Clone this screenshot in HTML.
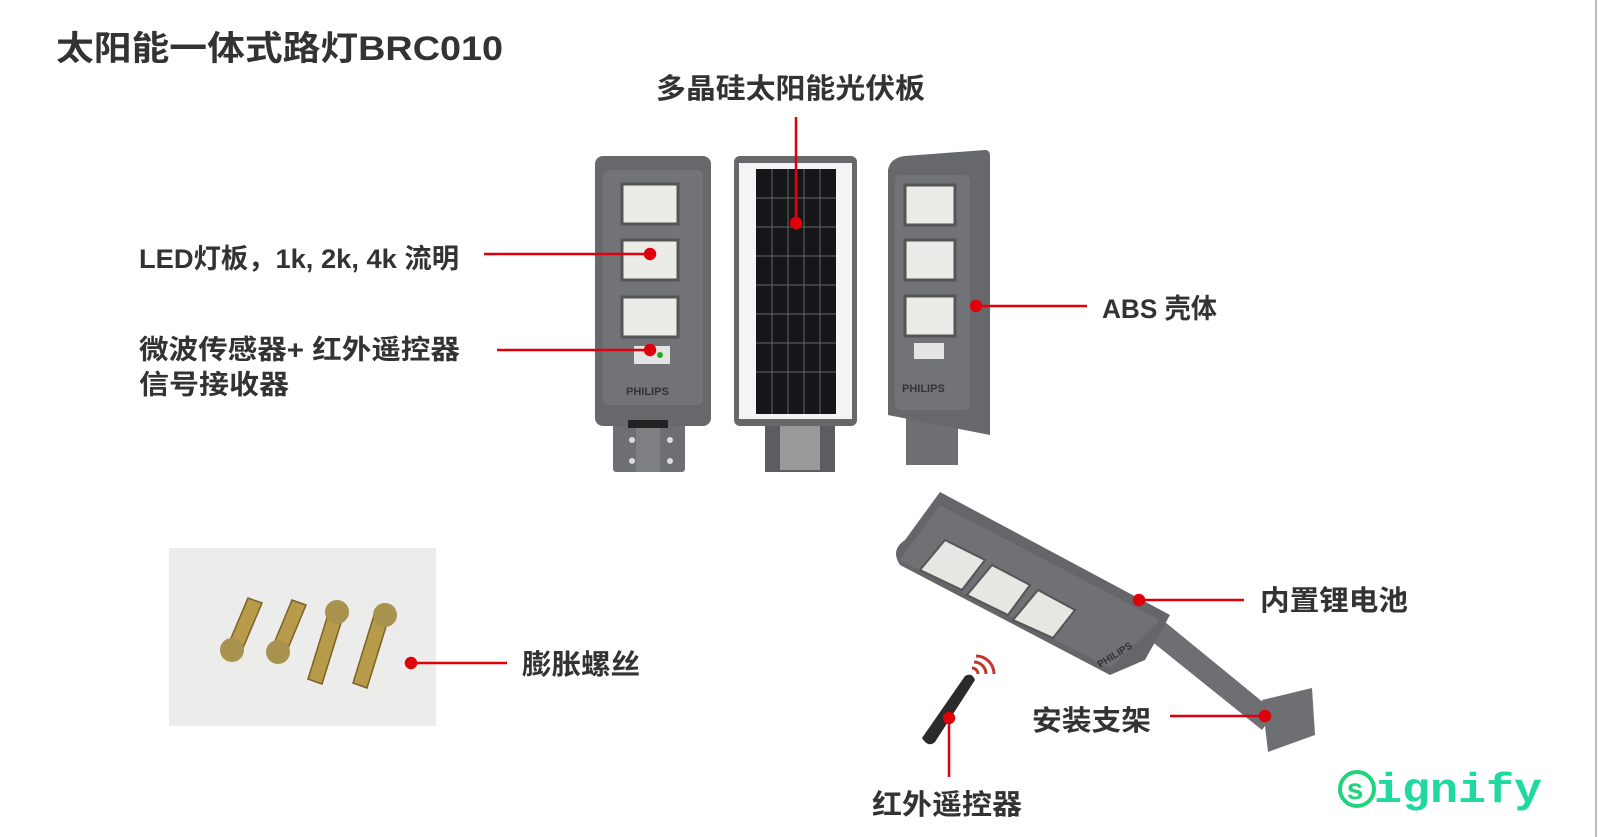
<!DOCTYPE html>
<html><head><meta charset="utf-8"><style>
html,body{margin:0;padding:0;background:#fff;}
svg{display:block;}
text{font-family:"Liberation Sans","Noto Sans CJK SC",sans-serif;font-weight:bold;fill:#333;}
</style></head><body>
<svg width="1599" height="837" viewBox="0 0 1599 837" xmlns="http://www.w3.org/2000/svg">
<rect width="1599" height="837" fill="#fff"/>
<line x1="1596" y1="0" x2="1596" y2="837" stroke="#bbb" stroke-width="2"/>
<text x="56" y="60" font-size="34" fill="#333" textLength="447" lengthAdjust="spacingAndGlyphs">太阳能一体式路灯BRC010</text>

<!-- lamp 1 -->
<rect x="613" y="405" width="72" height="67" fill="#6d6f72" rx="3"/>
<rect x="636" y="420" width="24" height="52" fill="#7e8083"/>
<circle cx="632" cy="440" r="3" fill="#ddd"/><circle cx="670" cy="440" r="3" fill="#ddd"/>
<circle cx="632" cy="461" r="3" fill="#ddd"/><circle cx="670" cy="461" r="3" fill="#ddd"/>
<rect x="595" y="156" width="116" height="270" rx="8" fill="#66686b"/>
<rect x="603" y="170" width="100" height="235" rx="6" fill="#717376"/>
<rect x="622" y="184" width="56" height="40" fill="#ebebe8" stroke="#555" stroke-width="3"/>
<rect x="622" y="240" width="56" height="40" fill="#ebebe8" stroke="#555" stroke-width="3"/>
<rect x="622" y="297" width="56" height="40" fill="#ebebe8" stroke="#555" stroke-width="3"/>
<rect x="634" y="346" width="36" height="18" fill="#e4e4e4"/>
<circle cx="660" cy="355" r="3" fill="#2a2"/>
<text x="626" y="395" font-size="11" fill="#ccc">PHILIPS</text>
<rect x="628" y="420" width="40" height="8" fill="#222"/>

<!-- solar panel -->
<rect x="765" y="420" width="70" height="52" fill="#5b5d60"/>
<rect x="780" y="425" width="40" height="45" fill="#999"/>
<rect x="734" y="156" width="123" height="270" rx="6" fill="#66686b"/>
<rect x="739" y="163" width="113" height="256" fill="#f4f4f4"/>
<rect x="756" y="169" width="80" height="245" fill="#14161a"/>
<g stroke="#666" stroke-width="1">
<line x1="772" y1="169" x2="772" y2="414"/><line x1="788" y1="169" x2="788" y2="414"/><line x1="804" y1="169" x2="804" y2="414"/><line x1="820" y1="169" x2="820" y2="414"/>
<line x1="756" y1="198" x2="836" y2="198"/><line x1="756" y1="227" x2="836" y2="227"/><line x1="756" y1="256" x2="836" y2="256"/><line x1="756" y1="285" x2="836" y2="285"/><line x1="756" y1="314" x2="836" y2="314"/><line x1="756" y1="343" x2="836" y2="343"/><line x1="756" y1="372" x2="836" y2="372"/>
</g>

<!-- lamp 3 -->
<rect x="906" y="405" width="52" height="60" fill="#6d6f72"/>
<path d="M888 170 Q890 158 905 156 L985 150 Q990 150 990 156 L990 435 L888 415 Z" fill="#66686b"/>
<rect x="895" y="175" width="75" height="235" rx="6" fill="#717376"/>
<rect x="905" y="185" width="50" height="40" fill="#ebebe8" stroke="#555" stroke-width="3"/>
<rect x="905" y="240" width="50" height="40" fill="#ebebe8" stroke="#555" stroke-width="3"/>
<rect x="905" y="296" width="50" height="40" fill="#ebebe8" stroke="#555" stroke-width="3"/>
<rect x="914" y="343" width="30" height="16" fill="#e4e4e4"/>
<text x="902" y="392" font-size="11" fill="#ccc">PHILIPS</text>

<!-- bolts photo -->
<rect x="169" y="548" width="267" height="178" fill="#ececea"/>
<g fill="#b79a4a" stroke="#7a6326" stroke-width="1.5">
<path d="M248 598 L262 603 L240 655 L226 650 Z"/>
<path d="M292 600 L306 605 L284 658 L270 653 Z"/>
<path d="M330 608 L344 613 L322 684 L308 679 Z"/>
<path d="M375 612 L389 617 L367 688 L353 683 Z"/>
</g>
<g fill="#a8924e">
<circle cx="232" cy="650" r="12"/><circle cx="278" cy="652" r="12"/><circle cx="337" cy="612" r="12"/><circle cx="385" cy="615" r="12"/>
</g>

<!-- angled lamp -->
<path d="M1150 640 L1165 622 L1275 712 L1262 730 Z" fill="#6d6f72"/>
<polygon points="1262,700 1312,688 1315,735 1268,752" fill="#6d6f72"/>
<path d="M900 565 Q890 550 905 540 L940 492 L1170 615 L1145 660 L1110 675 Z" fill="#64666a"/>
<path d="M900 560 L940 505 L1160 620 L1110 668 Z" fill="#6f7175"/>
<g fill="#e6e6e2" stroke="#555" stroke-width="2">
<polygon points="920,570 945,540 985,560 962,590"/>
<polygon points="967,595 992,565 1030,585 1008,615"/>
<polygon points="1013,620 1038,590 1075,610 1053,638"/>
</g>
<text x="0" y="0" font-size="10" fill="#ccc" transform="translate(1100,668) rotate(-32)">PHILIPS</text>

<!-- remote -->
<path d="M922 738 L965 676 Q972 672 975 680 L935 742 Q928 748 922 738 Z" fill="#2a2b2d"/>
<path d="M972 668 a6 6 0 0 1 6 6 M974 662 a12 12 0 0 1 12 12 M976 656 a18 18 0 0 1 18 18" fill="none" stroke="#c0392b" stroke-width="3"/>

<!-- connectors -->
<g stroke="#e0000b" stroke-width="2.5" fill="#e0000b">
<line x1="796" y1="117" x2="796" y2="222"/><circle cx="796" cy="223" r="5"/>
<line x1="484" y1="254" x2="650" y2="254"/><circle cx="650" cy="254" r="5"/>
<line x1="497" y1="350" x2="650" y2="350"/><circle cx="650" cy="350" r="5"/>
<line x1="976" y1="306" x2="1087" y2="306"/><circle cx="976" cy="306" r="5"/>
<line x1="411" y1="663" x2="507" y2="663"/><circle cx="411" cy="663" r="5"/>
<line x1="1139" y1="600" x2="1244" y2="600"/><circle cx="1139" cy="600" r="5"/>
<line x1="1170" y1="716" x2="1265" y2="716"/><circle cx="1265" cy="716" r="5"/>
<line x1="949" y1="718" x2="949" y2="777"/><circle cx="949" cy="718" r="5"/>
</g>

<!-- labels -->
<text x="656" y="98" font-size="28" textLength="269" lengthAdjust="spacingAndGlyphs">多晶硅太阳能光伏板</text>
<text x="139" y="268" font-size="27" textLength="320" lengthAdjust="spacingAndGlyphs">LED灯板，1k, 2k, 4k 流明</text>
<text x="139" y="359" font-size="27" textLength="321" lengthAdjust="spacingAndGlyphs">微波传感器+ 红外遥控器</text>
<text x="139" y="394" font-size="27" textLength="150" lengthAdjust="spacingAndGlyphs">信号接收器</text>
<text x="1102" y="318" font-size="27" textLength="115" lengthAdjust="spacingAndGlyphs">ABS 壳体</text>
<text x="522" y="674" font-size="28" textLength="118" lengthAdjust="spacingAndGlyphs">膨胀螺丝</text>
<text x="1260" y="610" font-size="28" textLength="148" lengthAdjust="spacingAndGlyphs">内置锂电池</text>
<text x="1032" y="730" font-size="28" textLength="119" lengthAdjust="spacingAndGlyphs">安装支架</text>
<text x="872" y="814" font-size="28" textLength="150" lengthAdjust="spacingAndGlyphs">红外遥控器</text>

<!-- signify -->
<circle cx="1357" cy="789" r="17" fill="none" stroke="#1fd47c" stroke-width="4"/>
<text x="1346" y="799" font-size="30" style="font-family:'Liberation Mono',monospace;font-weight:bold;fill:#1fd47c">s</text>
<text x="1374" y="802" font-size="42" style="font-family:'Liberation Mono',monospace;font-weight:bold;fill:#1fd9a0" textLength="168" lengthAdjust="spacingAndGlyphs">ignify</text>
</svg>
</body></html>
